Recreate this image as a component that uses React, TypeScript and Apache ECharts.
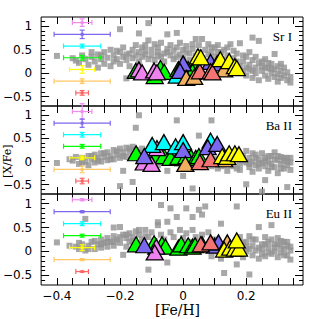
import React, { useEffect, useRef } from 'react';
import * as echarts from 'echarts';

// ---------- axes ----------
const xTicks = [-0.4, -0.35, -0.3, -0.25, -0.2, -0.15, -0.1, -0.05, 0, 0.05, 0.1, 0.15, 0.2, 0.25, 0.3, 0.35];
const xLabels = [-0.4, -0.2, 0, 0.2];
const yMajor = [-0.5, 0, 0.5, 1];
const yMinor = [-0.6, -0.4, -0.3, -0.2, -0.1, 0.1, 0.2, 0.3, 0.4, 0.6, 0.7, 0.8, 0.9, 1.1];
const panelNames = ['Sr I', 'Ba II', 'Eu II'];

// ---------- error-bar legend (same x, y in every panel) ----------
const errX = -0.32;
const errY = [1.08, 0.83, 0.58, 0.33, 0.08, -0.17, -0.42];
const errXerr = [0.031, 0.089, 0.059, 0.059, 0.04, 0.089, 0.02];
const srYerr = [0.08, 0.09, 0.04, 0.05, 0.08, 0.05, 0.05];
const baYerr = [0.17, 0.09, 0.05, 0.04, 0.04, 0.07, 0.06];
const euYerr = [0.02, 0.02, 0.04, 0.03, 0.06, 0.02, 0.01];

// ---------- field stars (grey squares) ----------
const srGrey = [
  [-0.40, 0.37], [-0.34, 0.27], [-0.33, 0.22], [-0.31, 0.30], [-0.30, 0.18], [-0.29, 0.35], [-0.28, 0.25], [-0.27, 0.12],
  [-0.27, 0.40], [-0.26, 0.30], [-0.25, 0.20], [-0.25, 0.45], [-0.24, 0.33], [-0.23, 0.15], [-0.23, 0.50], [-0.22, 0.38],
  [-0.22, 0.25], [-0.21, 0.30], [-0.20, 0.94], [-0.20, 0.45], [-0.20, 0.20], [-0.19, 0.35], [-0.19, 0.55], [-0.18, -0.11],
  [-0.18, 0.28], [-0.17, 0.42], [-0.17, 0.15], [-0.16, 0.50], [-0.16, 0.32], [-0.15, 0.38], [-0.15, 0.60], [-0.14, 0.85],
  [-0.14, 0.45], [-0.14, 0.25], [-0.13, 0.55], [-0.13, 0.35], [-0.11, 1.07], [-0.11, 0.70], [-0.05, 0.83], [-0.02, 0.86],
  [-0.12, 0.40], [-0.12, 0.60], [-0.11, 0.30], [-0.10, 0.50], [-0.10, 0.38], [-0.09, 0.62], [-0.09, 0.28], [-0.08, 0.45],
  [-0.08, 0.55], [-0.07, 0.35], [-0.07, 0.65], [-0.06, 0.42], [-0.06, 0.25], [-0.05, 0.52], [-0.04, 0.38], [-0.04, 0.60],
  [-0.03, 0.30], [-0.03, 0.48], [-0.02, 0.55], [-0.01, 0.40], [-0.01, 0.65], [0.00, 0.32], [0.00, 0.50], [0.01, 0.58],
  [0.02, 0.42], [0.02, 0.28], [0.03, 0.52], [0.04, 0.38], [0.04, 0.73], [0.05, 0.60], [0.05, 0.45], [0.06, 0.73],
  [0.06, 0.30], [0.07, 0.50], [0.08, 0.40], [0.09, 0.55], [0.10, 0.35], [0.11, 0.45], [0.12, 0.28], [0.13, 0.50],
  [0.14, 0.38], [0.15, 0.62], [0.15, 0.20], [0.16, 0.32], [0.17, 0.42], [0.18, 0.64], [0.18, 0.15], [0.19, 0.25],
  [0.19, 0.05], [0.20, 0.35], [0.20, -0.05], [0.21, 0.18], [0.21, 0.08], [0.22, 0.76], [0.22, 0.28], [0.22, -0.10],
  [0.23, 0.12], [0.23, 0.00], [0.24, 0.69], [0.24, 0.22], [0.24, -0.15], [0.25, 0.05], [0.25, 0.15], [0.26, -0.05],
  [0.26, 0.30], [0.27, 0.10], [0.27, -0.12], [0.28, 0.00], [0.28, 0.20], [0.29, 0.41], [0.29, -0.08], [0.29, 0.08],
  [0.30, -0.02], [0.30, -0.18], [0.31, 0.05], [0.31, -0.10], [0.32, 0.12], [0.32, -0.05], [0.33, -0.15], [0.33, 0.02],
  [0.34, -0.08], [0.34, -0.20], [0.30, 0.15],
  [0.08, 0.62], [0.10, 0.55], [0.12, 0.45], [0.14, 0.55], [0.16, 0.48], [0.17, 0.25], [0.19, 0.38], [0.21, 0.45],
  [0.23, 0.35], [0.25, 0.25], [0.27, 0.22], [0.28, 0.10], [0.31, 0.20], [0.26, 0.12], [0.22, 0.05], [0.20, 0.12],
  [-0.35, 0.32], [-0.32, 0.38], [-0.29, 0.45], [-0.26, 0.38], [-0.21, 0.48], [-0.18, 0.40], [-0.12, 0.48], [-0.05, 0.45],
  [0.01, 0.45], [0.03, 0.62], [-0.02, 0.35], [-0.08, 0.38], [0.09, 0.45], [0.11, 0.60],
];
const baGrey = [
  [-0.40, -0.03], [-0.35, 0.02], [-0.34, 0.10], [-0.33, -0.05], [-0.32, 0.08], [-0.31, 0.00], [-0.30, 0.12], [-0.30, -0.08],
  [-0.29, 0.05], [-0.28, 0.15], [-0.28, -0.02], [-0.27, 0.08], [-0.26, 0.18], [-0.26, 0.00], [-0.25, 0.10], [-0.24, 0.20],
  [-0.24, 0.03], [-0.23, 0.12], [-0.22, 0.25], [-0.22, 0.05], [-0.21, 0.15], [-0.20, 0.28], [-0.20, 0.08], [-0.20, -0.53],
  [-0.19, -0.20], [-0.19, 0.20], [-0.18, 0.30], [-0.18, 0.10], [-0.17, 0.22], [-0.16, -0.44], [-0.16, 0.32], [-0.16, 0.12],
  [-0.15, 0.73], [-0.15, 0.25], [-0.14, 1.00], [-0.14, 0.15], [-0.13, 0.28], [-0.12, 0.05], [-0.11, -0.05], [-0.10, 0.08],
  [-0.09, 0.00], [-0.08, -0.08], [-0.06, 0.02], [-0.05, -0.20], [-0.04, 0.05], [-0.02, 0.89], [-0.02, -0.05], [0.00, -0.31],
  [0.01, 0.00], [0.02, -0.08], [0.03, -0.58], [0.04, 0.02], [0.05, 0.56], [0.05, -0.05], [0.06, -0.12], [0.07, 0.00],
  [0.09, 0.89], [0.09, -0.10], [0.10, -0.02], [0.11, -0.15], [0.12, 0.05], [0.13, -0.08], [0.14, -0.20], [0.15, 0.00],
  [0.16, -0.10], [0.17, 0.05], [0.18, -0.05], [0.18, -0.18], [0.19, 0.12], [0.20, 0.23], [0.20, -0.02], [0.20, -0.49],
  [0.21, -0.12], [0.21, 0.08], [0.22, 0.00], [0.22, -0.22], [0.23, 0.15], [0.23, -0.08], [0.24, 0.05], [0.24, -0.15],
  [0.25, -0.03], [0.25, 0.18], [0.25, -0.65], [0.26, -0.40], [0.26, 0.08], [0.26, -0.10], [0.27, 0.00], [0.27, -0.20],
  [0.28, 0.12], [0.28, -0.05], [0.29, 0.20], [0.29, -0.12], [0.30, 0.03], [0.30, -0.25], [0.31, -0.05], [0.31, 0.10],
  [0.32, -0.15], [0.32, 0.02], [0.33, -0.08], [0.33, 0.08], [0.34, -0.02], [0.34, -0.18], [0.33, -0.55],
  [-0.36, 0.05], [-0.32, -0.02], [-0.29, 0.12], [-0.27, 0.02], [-0.25, 0.18], [-0.23, 0.05], [-0.21, 0.22], [-0.19, 0.12],
  [-0.17, 0.28], [-0.15, 0.10], [-0.13, 0.20], [0.15, -0.08], [0.17, -0.15], [0.19, 0.02], [0.21, -0.05], [0.23, 0.08],
  [0.24, -0.05], [0.26, 0.02], [0.27, 0.12], [0.28, -0.12], [0.29, 0.05], [0.30, 0.12], [0.31, -0.15], [0.32, 0.08],
  [0.33, 0.00], [0.34, 0.08], [0.22, 0.18], [0.12, -0.10], [0.08, -0.05], [0.10, 0.05],
];
const euGrey = [
  [-0.40, 0.19], [-0.34, 0.10], [-0.33, 0.05], [-0.32, 0.15], [-0.31, 0.68], [-0.31, 0.02], [-0.30, 0.12], [-0.29, 0.20],
  [-0.28, 0.05], [-0.27, 0.15], [-0.26, 0.25], [-0.26, 0.08], [-0.25, 0.18], [-0.24, 0.28], [-0.24, 0.10], [-0.23, 0.20],
  [-0.22, 0.32], [-0.22, 0.12], [-0.21, 0.25], [-0.22, 0.50], [-0.20, 0.51], [-0.20, 0.18], [-0.19, 0.35], [-0.19, -0.07],
  [-0.18, 0.28], [-0.18, 0.10], [-0.17, 0.38], [-0.17, 0.20], [-0.16, 0.30], [-0.15, 0.42], [-0.15, 0.15], [-0.14, 0.35],
  [-0.13, 0.25], [-0.12, 0.45], [-0.11, 0.30], [-0.11, -0.38], [-0.10, 0.40], [-0.09, 0.22], [-0.08, 0.55], [-0.08, 0.61],
  [-0.07, 0.97], [-0.07, 0.35], [-0.06, 0.25], [-0.05, 0.62], [-0.05, -0.23], [-0.04, 0.90], [-0.04, 0.40], [-0.03, 0.30],
  [-0.02, 0.72], [-0.01, 0.45], [0.00, 0.28], [0.01, 0.90], [0.01, 0.38], [0.02, 0.20], [0.03, 0.72], [0.03, 0.45],
  [0.04, 0.30], [0.05, 0.87], [0.05, 0.15], [0.06, 0.77], [0.06, 0.35], [0.07, 0.94], [0.07, 0.05], [0.08, 0.40],
  [0.09, -0.10], [0.10, 0.25], [0.11, 0.00], [0.12, 0.58], [0.12, -0.15], [0.13, -0.45], [0.14, 0.20], [0.15, -0.05],
  [0.16, 0.10], [0.17, 0.94], [0.17, -0.27], [0.18, 0.30], [0.18, 0.05], [0.19, -0.12], [0.20, 0.20], [0.20, 0.00],
  [0.21, -0.48], [0.21, 0.32], [0.22, 0.12], [0.22, -0.08], [0.23, 0.25], [0.23, 0.02], [0.24, 0.51], [0.24, -0.15],
  [0.25, 0.15], [0.25, 0.05], [0.26, 0.30], [0.26, -0.10], [0.27, 0.08], [0.27, 0.20], [0.28, 0.55], [0.28, -0.05],
  [0.29, 0.15], [0.29, 0.00], [0.30, 0.28], [0.30, -0.12], [0.31, 0.10], [0.31, -0.02], [0.32, 0.20], [0.32, 0.05],
  [0.33, -0.08], [0.33, 0.12], [0.34, 0.02], [0.34, -0.17],
  [-0.36, 0.12], [-0.33, 0.18], [-0.30, 0.05], [-0.28, 0.22], [-0.26, 0.15], [-0.24, 0.20], [-0.22, 0.20], [-0.20, 0.30],
  [-0.18, 0.35], [-0.16, 0.22], [-0.14, 0.45], [-0.12, 0.32], [0.13, 0.10], [0.15, 0.15], [0.17, 0.05], [0.19, 0.18],
  [0.21, 0.05], [0.22, 0.25], [0.24, 0.08], [0.25, -0.05], [0.26, 0.15], [0.27, -0.02], [0.28, 0.25], [0.29, 0.08],
  [0.30, 0.15], [0.31, 0.22], [0.32, -0.08], [0.33, 0.20], [0.34, 0.10], [0.20, 0.10],
];

// ---------- cluster stars (triangles) ----------
const srGreen = [[-0.15, 0.05], [-0.072, 0.11], [-0.09, -0.06], [-0.06, 0.03], [-0.015, 0.09], [0.016, 0.085], [0.038, 0.15], [0.03, 0.03], [0.05, 0.06]];
const srViolet = [[-0.14, 0.08], [-0.13, 0.02], [-0.092, 0.06], [-0.083, 0.02]];
const srCyan = [[-0.02, -0.05]];
const srSlate = [[0.0, 0.21], [-0.01, 0.05], [0.087, 0.24], [0.108, 0.21]];
const srOrange = [[0.01, -0.1], [0.035, -0.08], [0.13, 0.08]];
const srRed = [[0.053, 0.04], [0.087, 0.04], [0.093, 0.02]];
const srYellow = [[0.047, 0.36], [0.056, 0.34], [0.118, 0.3], [0.146, 0.26], [0.164, 0.15], [0.17, 0.11]];

const baGreen = [[-0.149, 0.18], [-0.087, 0.12], [-0.061, 0.12], [-0.04, 0.08], [-0.015, 0.10], [0.01, 0.12], [0.025, 0.10], [0.04, 0.08], [0.05, 0.12]];
const baViolet = [[-0.125, -0.02], [-0.10, -0.05], [-0.083, 0.29]];
const baCyan = [[-0.098, 0.36], [-0.061, 0.42], [-0.024, 0.33], [0.0, 0.42], [0.087, 0.45]];
const baSlate = [[-0.123, 0.12], [0.0, 0.25], [0.078, 0.31], [0.108, 0.38]];
const baOrange = [[0.007, -0.05], [0.13, 0.05]];
const baRed = [[0.053, -0.01], [0.087, 0.05]];
const baYellow = [[0.124, 0.12], [0.14, 0.10], [0.146, 0.18], [0.164, 0.18], [0.177, 0.16]];

const euGreen = [[-0.149, 0.15], [-0.092, 0.17], [-0.067, 0.15], [-0.056, 0.10], [-0.015, 0.08], [-0.006, 0.15], [0.016, 0.13], [0.03, 0.10], [0.038, 0.13], [0.06, 0.15]];
const euViolet = [[-0.085, 0.10], [-0.09, -0.02]];
const euCyan = [];
const euSlate = [[-0.123, 0.13], [0.10, 0.12], [0.112, 0.19]];
const euOrange = [[0.14, 0.19]];
const euRed = [[0.056, 0.15], [0.087, 0.19]];
const euYellow = [[0.13, 0.04], [0.149, 0.08], [0.164, 0.06], [0.177, 0.06], [0.17, 0.23]];

const errColors = ['#f08cf0', '#7b68ee', '#00ffff', '#00ff00', '#ffff00', '#ffc864', '#ff6464'];
const triColors = { green: '#00ff00', violet: '#ee82ee', cyan: '#00ffff', slate: '#7b68ee', orange: '#f0b060', red: '#f47474', yellow: '#ffff00' };

const panels = [
  { grey: srGrey, yerr: srYerr, tri: { green: srGreen, violet: srViolet, cyan: srCyan, slate: srSlate, orange: srOrange, red: srRed, yellow: srYellow } },
  { grey: baGrey, yerr: baYerr, tri: { green: baGreen, violet: baViolet, cyan: baCyan, slate: baSlate, orange: baOrange, red: baRed, yellow: baYellow } },
  { grey: euGrey, yerr: euYerr, tri: { green: euGreen, violet: euViolet, cyan: euCyan, slate: euSlate, orange: euOrange, red: euRed, yellow: euYellow } },
];

const gridTops = [17, 106, 194];
const gridHeights = [89, 88, 91];
const fmt = (v: number) => String(Math.round(v * 100) / 100).replace('-', '\u2212');

function buildOption() {
  const grid: any[] = [];
  const xAxis: any[] = [];
  const yAxis: any[] = [];
  const series: any[] = [];
  const graphic: any[] = [];
  const tickStyle = { color: '#000', width: 1 };
  panels.forEach((p, i) => {
    grid.push({ left: 35, right: 16, top: gridTops[i], height: gridHeights[i], show: true, borderColor: '#000', borderWidth: 1, backgroundColor: 'transparent' });
    ['bottom', 'top'].forEach((pos, k) => {
      xAxis.push({
        type: 'value', gridIndex: i, min: -0.45, max: 0.38, position: pos,
        axisLine: { show: false, onZero: false }, splitLine: { show: false },
        axisTick: { show: true, inside: true, length: 7, customValues: xTicks, lineStyle: tickStyle },
        axisLabel: {
          show: i === 2 && k === 0, customValues: xLabels, formatter: fmt, margin: 5,
          color: '#000', fontFamily: 'DejaVu Sans', fontSize: 12,
        },
      });
    });
    ['left', 'right'].forEach((pos) => {
      yAxis.push({
        type: 'value', gridIndex: i, min: -0.7, max: 1.2, position: pos,
        axisLine: { show: false, onZero: false }, splitLine: { show: false },
        axisTick: { show: true, inside: true, length: 8, customValues: yMajor, lineStyle: tickStyle },
        axisLabel: {
          show: pos === 'left', customValues: yMajor, formatter: fmt, margin: 9,
          color: '#000', fontFamily: 'DejaVu Sans', fontSize: 12,
        },
      });
      yAxis.push({
        type: 'value', gridIndex: i, min: -0.7, max: 1.2, position: pos,
        axisLine: { show: false, onZero: false }, splitLine: { show: false },
        axisTick: { show: true, inside: true, length: 4, customValues: yMinor, lineStyle: tickStyle },
        axisLabel: { show: false },
      });
    });
    const xi = i * 2;
    const yi = i * 4;
    series.push({
      type: 'scatter', xAxisIndex: xi, yAxisIndex: yi, data: p.grey, symbol: 'rect', symbolSize: 6,
      itemStyle: { color: '#929292' }, z: 2, silent: true,
    });
    const errData = errY.map((y, k) => [errX, y, errXerr[k], p.yerr[k], k]);
    series.push({
      type: 'custom', xAxisIndex: xi, yAxisIndex: yi, data: errData, z: 3, clip: false,
      renderItem: (params: any, api: any) => {
        const x = api.value(0), y = api.value(1), xe = api.value(2), ye = api.value(3), ci = api.value(4);
        const c = errColors[ci];
        const a = api.coord([x - xe, y]);
        const b = api.coord([x + xe, y]);
        const u = api.coord([x, y + ye]);
        const d = api.coord([x, y - ye]);
        const m = api.coord([x, y]);
        const st = { stroke: c, lineWidth: 1.2, fill: null };
        const cap = 2.5;
        return {
          type: 'group',
          children: [
            { type: 'line', shape: { x1: a[0], y1: a[1], x2: b[0], y2: b[1] }, style: st },
            { type: 'line', shape: { x1: a[0], y1: a[1] - cap, x2: a[0], y2: a[1] + cap }, style: st },
            { type: 'line', shape: { x1: b[0], y1: b[1] - cap, x2: b[0], y2: b[1] + cap }, style: st },
            { type: 'line', shape: { x1: u[0], y1: u[1], x2: d[0], y2: d[1] }, style: st },
            { type: 'line', shape: { x1: u[0] - cap, y1: u[1], x2: u[0] + cap, y2: u[1] }, style: st },
            { type: 'line', shape: { x1: d[0] - cap, y1: d[1], x2: d[0] + cap, y2: d[1] }, style: st },
            { type: 'rect', shape: { x: m[0] - 1.5, y: m[1] - 1.5, width: 3, height: 3 }, style: { fill: c } },
          ],
        };
      },
    });
    (['green', 'violet', 'cyan', 'slate', 'orange', 'red', 'yellow'] as const).forEach((key, k) => {
      series.push({
        type: 'scatter', xAxisIndex: xi, yAxisIndex: yi, data: (p.tri as any)[key], symbol: 'triangle',
        symbolSize: [17, 15], z: 4 + k,
        itemStyle: { color: (triColors as any)[key], borderColor: '#000', borderWidth: 1.3, opacity: 1 },
      });
    });
    graphic.push({
      type: 'text', right: 27, top: gridTops[i] + 13, z: 100,
      style: { text: panelNames[i], fill: '#000', font: '13px "Liberation Serif"', textAlign: 'right' },
    });
  });
  graphic.push({
    type: 'text', left: 155, top: 303, z: 100,
    style: { text: '[Fe/H]', fill: '#000', font: '14px "DejaVu Serif"' },
  });
  graphic.push({
    type: 'text', x: 2, y: 178, rotation: Math.PI / 2, z: 100,
    style: { text: '[X/Fe]', fill: '#000', font: '11px "DejaVu Serif"' },
  });
  return { animation: false, backgroundColor: '#fff', grid, xAxis, yAxis, series, graphic };
}

export default function App() {
  const ref = useRef<HTMLDivElement>(null);
  useEffect(() => {
    if (!ref.current) return;
    const chart = echarts.init(ref.current, undefined, { renderer: 'svg' });
    chart.setOption(buildOption() as any);
    return () => chart.dispose();
  }, []);
  return <div ref={ref} style={{ position: 'fixed', left: 0, top: 0, width: 319, height: 319, background: '#fff' }} />;
}
